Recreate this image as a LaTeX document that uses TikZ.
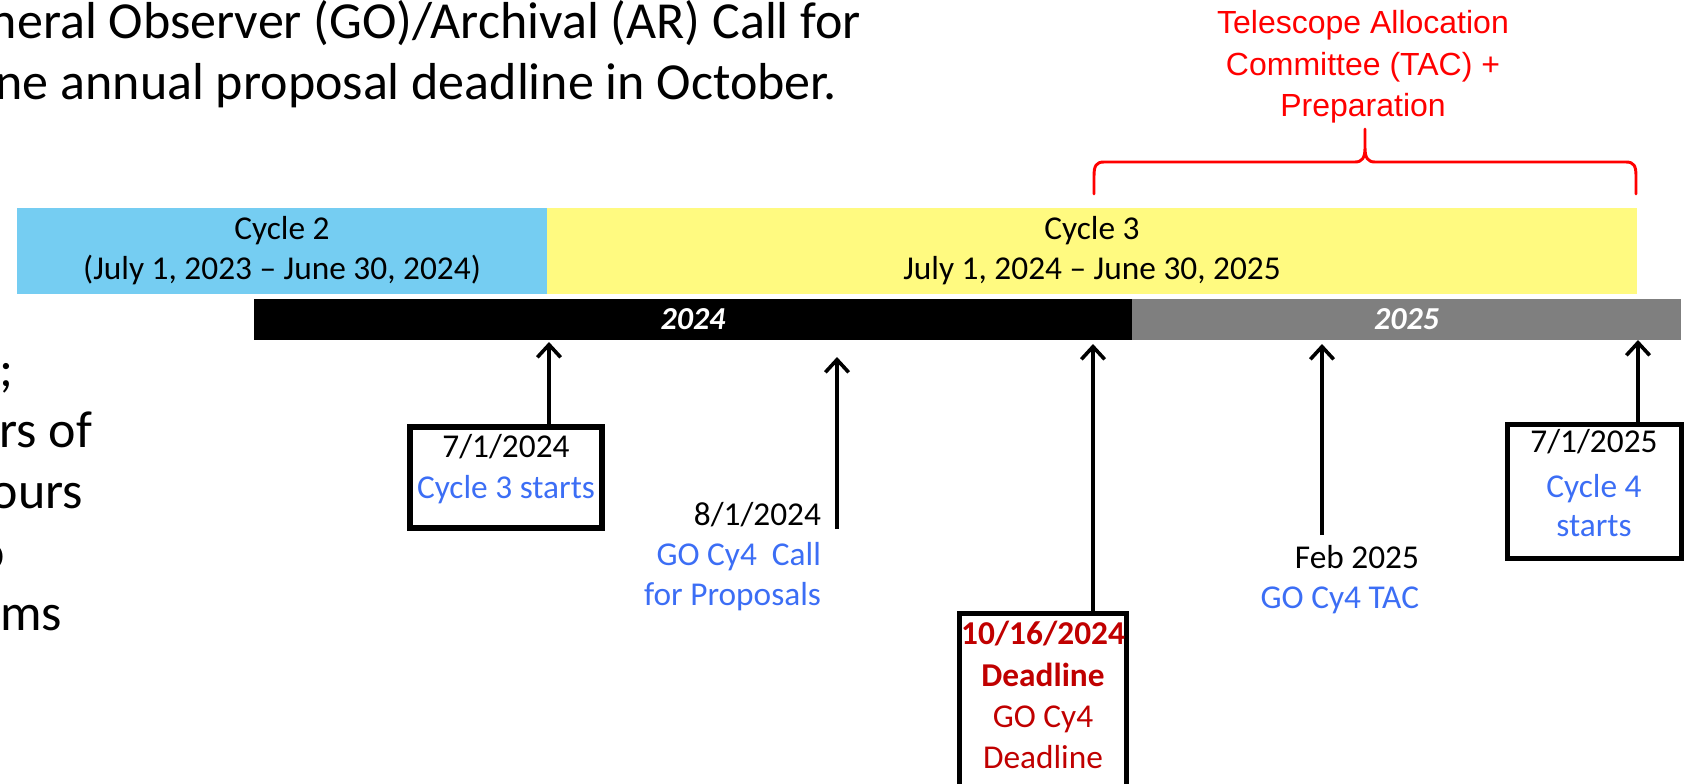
\documentclass[tikz,border=0pt]{standalone}
\usepackage{fontspec}
\setmainfont{Carlito}
\newfontfamily\arialf{Liberation Sans}
\usetikzlibrary{arrows.meta}
\definecolor{cyctwo}{RGB}{117,205,242}
\definecolor{cycthree}{RGB}{255,250,128}
\definecolor{bargray}{RGB}{127,127,127}
\definecolor{evblue}{RGB}{60,110,245}
\definecolor{dlred}{RGB}{192,0,0}
\definecolor{tacred}{RGB}{255,0,0}
\begin{document}
\begin{tikzpicture}[x=0.75pt,y=-0.75pt,
  every node/.style={inner sep=0pt, outer sep=0pt},
  big/.style={font=\fontsize{39}{47}\selectfont, anchor=base east},
  lbl/.style={font=\fontsize{25}{30}\selectfont, anchor=base},
  lblb/.style={lbl, font=\fontsize{25}{30}\selectfont\bfseries},
  lblr/.style={lbl, anchor=base east},
  tactxt/.style={font=\arialf\fontsize{24}{31}\selectfont, text=tacred, anchor=base},
  cycbar/.style={minimum height=64.5pt, align=center, font=\fontsize{25}{30}\selectfont},
  yearbar/.style={minimum height=30.75pt, text=white, font=\fontsize{24}{29}\selectfont\bfseries\itshape},
  evbox/.style={draw, line width=3.8pt, rectangle},
  arr/.style={line width=2.7pt, -{Straight Barb[length=9.5pt,width=17.5pt]}},
  brace/.style={draw=tacred, line width=2.2pt, line cap=round, line join=round}
]
\useasboundingbox (0,0) rectangle (1688,783);

% background text fragments
\node[big] (t1) at (861,38) {neral Observer (GO)/Archival (AR) Call for};
\node[big] (t2) at (837,99) {ne annual proposal deadline in October.};
\node[big] (l1) at (13,386) {;};
\node[big] (l2) at (92,447) {urs of};
\node[big] (l3) at (83,508) {ours};
\node[big] (l4) at (5,569) {o};
\node[big] (l5) at (62,630) {ms};

% cycle bars
\node[cycbar, fill=cyctwo, minimum width=397.5pt] (cyc2) at (282,251) {Cycle 2\\(July 1, 2023 – June 30, 2024)};
\node[cycbar, fill=cycthree, minimum width=817.5pt] (cyc3) at (1092,251) {Cycle 3\\July 1, 2024 – June 30, 2025};

% year bars
\node[yearbar, fill=black, minimum width=658.5pt] (y24) at (693,319.5) {2024};
\node[yearbar, fill=bargray, minimum width=411.75pt] (y25) at (1406.5,319.5) {2025};

% TAC brace
\node[tactxt] (tac1) at (1363,33) {Telescope Allocation};
\node[tactxt] (tac2) at (1363,75) {Committee (TAC) +};
\node[tactxt] (tac3) at (1363,116) {Preparation};
\draw[brace] (1094,194) -- (1094,176) .. controls (1094,166) and (1096,162) .. (1104,162)
  -- (1355,162) .. controls (1362,162) and (1365,158) .. (1365,148) -- (1365,129)
  -- (1365,148) .. controls (1365,158) and (1368,162) .. (1375,162)
  -- (1626,162) .. controls (1634,162) and (1636,166) .. (1636,176) -- (1636,194);

% event boxes
\node[evbox, minimum width=144pt, minimum height=75.75pt] (box1) at (506,477.5) {};
\node[evbox, minimum width=125.25pt, minimum height=155pt] (box3) at (1043,716.75) {};
\node[evbox, minimum width=130.5pt, minimum height=100.5pt] (box5) at (1594.5,491.5) {};

% box texts
\node[lbl] (b1a) at (506,457) {7/1/2024};
\node[lbl, text=evblue] (b1b) at (506,498) {Cycle 3 starts};

\node[lblr] (c1) at (821,525) {8/1/2024};
\node[lblr, text=evblue] (c2) at (821,565) {GO Cy4\ \ Call};
\node[lblr, text=evblue] (c3) at (821,605) {for Proposals};

\node[lblb, text=dlred] (d1) at (1043,644) {10/16/2024};
\node[lblb, text=dlred] (d2) at (1043,686) {Deadline};
\node[lbl, text=dlred] (d3) at (1043,727) {GO Cy4};
\node[lbl, text=dlred] (d4) at (1043,768) {Deadline};

\node[lblr] (f1) at (1419,568) {Feb 2025};
\node[lblr, text=evblue] (f2) at (1419,608) {GO Cy4 TAC};

\node[lbl] (e1) at (1594,452) {7/1/2025};
\node[lbl, text=evblue] (e2) at (1594,497) {Cycle 4};
\node[lbl, text=evblue] (e3) at (1594,536) {starts};

% arrows
\coordinate (p1) at (549,342);
\draw[arr] (box1.north -| p1) -- (p1);
\coordinate (p2b) at (837,529);
\coordinate (p2) at (837,357);
\draw[arr] (p2b) -- (p2);
\coordinate (p3) at (1093,344);
\draw[arr] (box3.north -| p3) -- (p3);
\coordinate (p4b) at (1322,535);
\coordinate (p4) at (1322,344);
\draw[arr] (p4b) -- (p4);
\coordinate (p5) at (1638,340);
\draw[arr] (box5.north -| p5) -- (p5);
\end{tikzpicture}
\end{document}
